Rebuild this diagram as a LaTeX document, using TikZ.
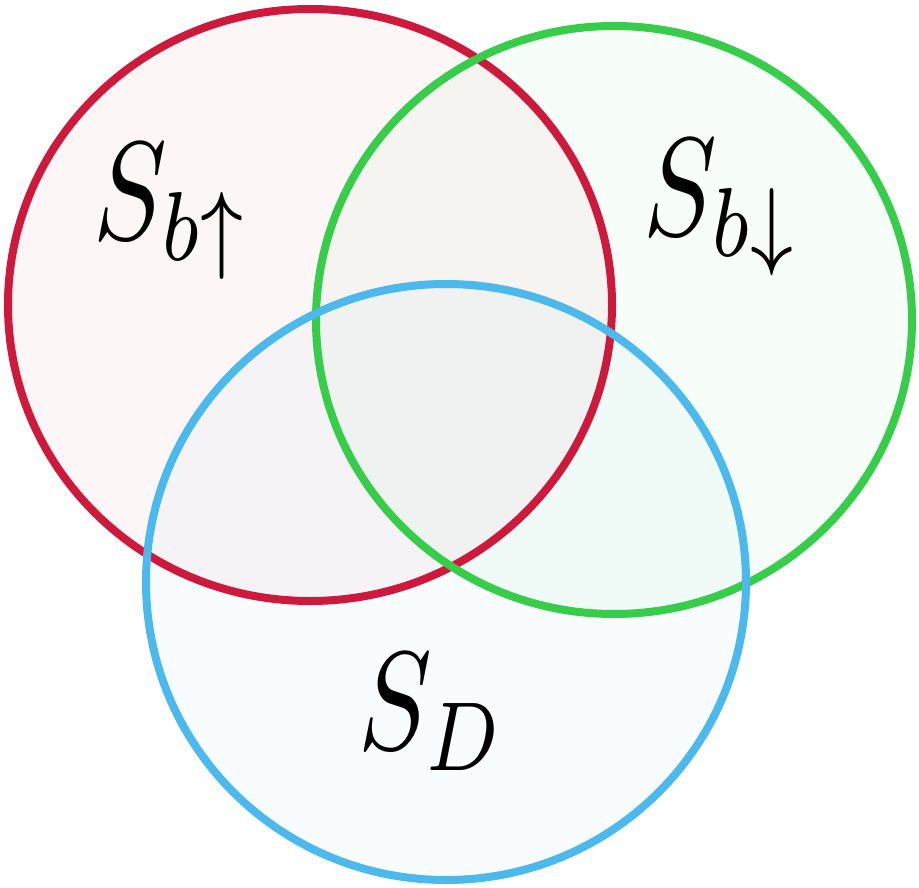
\documentclass[tikz,border=0pt]{standalone}
\usepackage{graphicx}
\begin{document}
\begin{tikzpicture}[x=1pt,y=-1pt,
  ring/.style={line width=8pt},
  lbl/.style={inner sep=0pt}]
\definecolor{cred}{RGB}{205,25,60}
\definecolor{cgreen}{RGB}{55,205,75}
\definecolor{cblue}{RGB}{75,185,235}
\useasboundingbox (0,0) rectangle (919,888);
\fill[cred, opacity=0.04] (310,305) ellipse [x radius=302, y radius=296];
\fill[cgreen, opacity=0.04] (614,320) ellipse [x radius=298, y radius=294];
\fill[cblue, opacity=0.04] (446,582) ellipse [x radius=300, y radius=298];
\draw[ring, cred] (310,305) ellipse [x radius=302, y radius=296];
\draw[ring, cgreen] (614,320) ellipse [x radius=298, y radius=294];
\draw[ring, cblue] (446,582) ellipse [x radius=300, y radius=298];
\node[lbl] (sup) at (172,212) {\scalebox{11}[14]{$S_{b\uparrow}$}};
\node[lbl] (sdown) at (722,208) {\scalebox{11}[14]{$S_{b\downarrow}$}};
\node[lbl] (sd) at (432,712) {\scalebox{11}[14]{$S_{D}$}};
\end{tikzpicture}
\end{document}
